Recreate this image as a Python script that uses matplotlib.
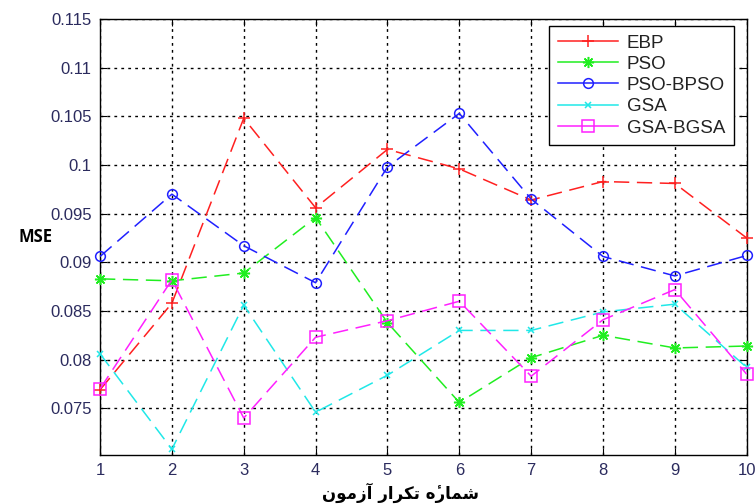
import numpy as np
import matplotlib
matplotlib.use("Agg")
import matplotlib.pyplot as plt
from matplotlib.lines import Line2D

# data
runs = list(range(1, 11))
ebp = [0.0769, 0.0858, 0.1048, 0.0956, 0.1016, 0.0996, 0.0964, 0.0983, 0.0981, 0.0925]
pso = [0.0883, 0.0881, 0.0889, 0.0946, 0.0838, 0.0756, 0.0802, 0.0825, 0.0812, 0.0814]
pso_bpso = [0.0906, 0.0970, 0.0917, 0.0879, 0.0998, 0.1053, 0.0965, 0.0906, 0.0886, 0.0907]
gsa = [0.0806, 0.0708, 0.0856, 0.0746, 0.0784, 0.0830, 0.0830, 0.0849, 0.0857, 0.0792]
gsa_bgsa = [0.0770, 0.0882, 0.0740, 0.0823, 0.0840, 0.0860, 0.0783, 0.0841, 0.0872, 0.0785]
yticks = [0.075, 0.08, 0.085, 0.09, 0.095, 0.1, 0.105, 0.11, 0.115]
ytick_labels = ["0.075", "0.08", "0.085", "0.09", "0.095", "0.1", "0.105", "0.11", "0.115"]

# x label in Persian, presentation forms laid out left to right
w1 = "\uFEE9\u0654" + "\uFEAD\uFE8E\uFEE4\uFEB7"   # shomare (visual order)
w2 = "\uFEAD\uFE8D\uFEAE\uFB91\uFE97"              # tekrar (visual order)
w3 = "\uFEE5\uFEEE\uFEE3\uFEAF\uFE81"              # azmoon (visual order)
xlabel = w3 + " " + w2 + " " + w1

series = [
    ("EBP", ebp, "#ff2020", "+", 9),
    ("PSO", pso, "#20ee20", (8, 2, 0), 8),
    ("PSO-BPSO", pso_bpso, "#2020ff", "o", 7),
    ("GSA", gsa, "#20e8e8", "x", 5),
    ("GSA-BGSA", gsa_bgsa, "#ff20ff", "s", 8),
]

plt.rcParams["font.family"] = ["Liberation Sans", "DejaVu Sans"]

fig = plt.figure(figsize=(7.55, 5.04), dpi=100)
ax = fig.add_axes([0.1325, 0.0972, 0.8565, 0.8651])

handles = []
for name, vals, col, mk, ms in series:
    ax.plot(runs, vals, color=col, marker=mk, markersize=ms, markerfacecolor="none",
            markeredgecolor=col, markeredgewidth=1.1, linewidth=1.1,
            linestyle=(0, (10, 5)), clip_on=False, zorder=3)
    handles.append(Line2D([], [], color=col, marker=mk, markersize=ms, markerfacecolor="none",
                          markeredgecolor=col, markeredgewidth=1.1, linewidth=1.1, label=name))

ax.set_xlim(1, 10)
ax.set_ylim(0.0702, 0.115)
ax.set_xticks(runs)
ax.set_yticks(yticks)
ax.set_yticklabels(ytick_labels)
ax.tick_params(direction="in", length=5, labelsize=12, labelcolor="#2b2b5e",
               top=True, right=True, pad=6)
ax.grid(True, color="black", linestyle=(0, (2, 3)), linewidth=1.0)
for sp in ax.spines.values():
    sp.set_linewidth(1.0)

leg = ax.legend(handles=handles, loc="upper right", bbox_to_anchor=(0.98, 0.984),
                fontsize=13.5, handlelength=3.2, borderaxespad=0, labelspacing=0.22,
                fancybox=False, framealpha=1, edgecolor="black", borderpad=0.45,
                handletextpad=0.5)
leg.get_frame().set_linewidth(1.0)
for t in leg.get_texts():
    t.set_color("#222222")

fig.text(0.047, 1 - 237 / 504, "MSE", fontsize=12, fontweight="bold",
         family=["Open Sans", "DejaVu Sans"], ha="center", va="center")
fig.text(400 / 755, 1 - 493 / 504, xlabel, fontsize=12, fontweight="bold",
         family=["DejaVu Sans"], ha="center", va="center")

fig.savefig("out.png", dpi=100)
